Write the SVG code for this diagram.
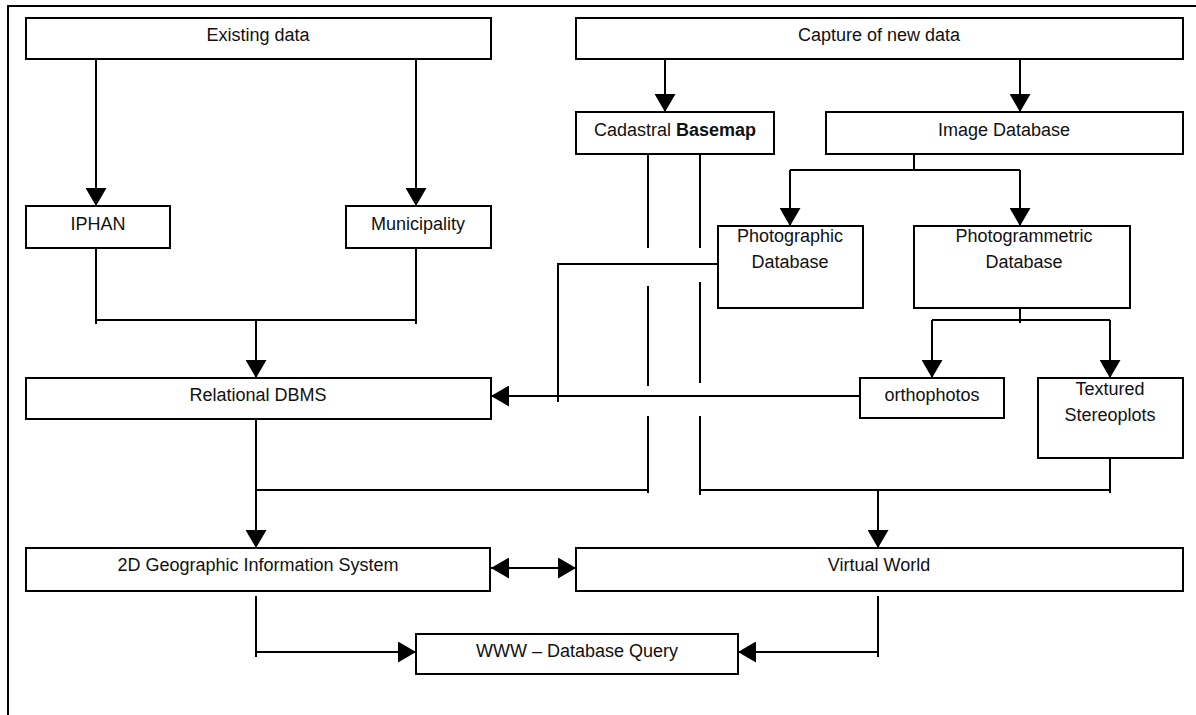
<svg xmlns="http://www.w3.org/2000/svg" width="1196" height="715" viewBox="0 0 1196 715">
<style>
  .box { fill: #fff; stroke: #000; stroke-width: 2; }
  .t { font-family: "Liberation Sans", Arial, sans-serif; font-size: 18px; fill: #111; text-anchor: middle; }
  .c { fill: none; stroke: #000; stroke-width: 2; }
  .a { marker-end: url(#ah); }
</style>
<defs>
  <marker id="ah" markerUnits="userSpaceOnUse" markerWidth="18" markerHeight="21" refX="18" refY="10.5" orient="auto-start-reverse" viewBox="0 0 18 21">
    <path d="M0,0 L18,10.5 L0,21 z" fill="#000"/>
  </marker>
</defs>
<rect width="1196" height="715" fill="#fff"/>
<path class="c" d="M8,715 V6 H1196"/>

<g id="connectors">
  <path class="c a" d="M96,56 V206"/>
  <path class="c a" d="M416,56 V206"/>
  <path class="c a" d="M665,56 V112"/>
  <path class="c a" d="M1020,56 V112"/>
  <path class="c" d="M96,243 V324 M416,243 V324 M96,320 H416"/>
  <path class="c a" d="M256,320 V378"/>
  <path class="c" d="M914,150 V170 M790,170 H1020"/>
  <path class="c a" d="M790,170 V226"/>
  <path class="c a" d="M1020,170 V226"/>
  <path class="c" d="M1020,302 V323 M932,320 H1110"/>
  <path class="c a" d="M932,320 V378"/>
  <path class="c a" d="M1110,320 V378"/>
  <path class="c" d="M718,264 H558 V402"/>
  <path class="c a" d="M860,396 H491"/>
  <path class="c" d="M648,143 V248 M648,286 V386 M648,416 V493"/>
  <path class="c" d="M700,150 V248 M700,282 V383 M700,416 V495"/>
  <path class="c" d="M256,490 H648 M700,490 H1110 M1110,454 V493"/>
  <path class="c a" d="M256,416 V548"/>
  <path class="c a" d="M878,490 V548"/>
  <path class="c a" d="M491,568 H576" marker-start="url(#ah)"/>
  <path class="c" d="M256,596 V657"/>
  <path class="c a" d="M256,652 H416"/>
  <path class="c" d="M878,596 V657"/>
  <path class="c a" d="M878,652 H738"/>
</g>

<g id="existing"><rect class="box" x="26" y="18" width="465" height="41"/><text class="t" x="258" y="41">Existing data</text></g>
<g id="capture"><rect class="box" x="576" y="18" width="607" height="41"/><text class="t" x="879" y="41">Capture of new data</text></g>
<g id="cadastral"><rect class="box" x="576" y="112" width="198" height="42"/><text class="t" x="675" y="136">Cadastral <tspan font-weight="bold">Basemap</tspan></text></g>
<g id="imagedb"><rect class="box" x="826" y="112" width="357" height="42"/><text class="t" x="1004" y="136">Image Database</text></g>
<g id="iphan"><rect class="box" x="26" y="206" width="144" height="42"/><text class="t" x="98" y="230">IPHAN</text></g>
<g id="municipality"><rect class="box" x="346" y="206" width="145" height="42"/><text class="t" x="418" y="230">Municipality</text></g>
<g id="photographic"><rect class="box" x="718" y="226" width="145" height="82"/><text class="t" x="790" y="242">Photographic</text><text class="t" x="790" y="268">Database</text></g>
<g id="photogrammetric"><rect class="box" x="914" y="226" width="216" height="82"/><text class="t" x="1024" y="242">Photogrammetric</text><text class="t" x="1024" y="268">Database</text></g>
<g id="relational"><rect class="box" x="26" y="378" width="465" height="41"/><text class="t" x="258" y="401">Relational DBMS</text></g>
<g id="orthophotos"><rect class="box" x="860" y="378" width="144" height="40"/><text class="t" x="932" y="401">orthophotos</text></g>
<g id="textured"><rect class="box" x="1038" y="378" width="145" height="80"/><text class="t" x="1110" y="395">Textured</text><text class="t" x="1110" y="421">Stereoplots</text></g>
<g id="gis"><rect class="box" x="26" y="548" width="464" height="43"/><text class="t" x="258" y="571">2D Geographic Information System</text></g>
<g id="virtualworld"><rect class="box" x="576" y="548" width="607" height="43"/><text class="t" x="879" y="571">Virtual World</text></g>
<g id="www"><rect class="box" x="416" y="634" width="322" height="40"/><text class="t" x="577" y="657">WWW – Database Query</text></g>
</svg>
